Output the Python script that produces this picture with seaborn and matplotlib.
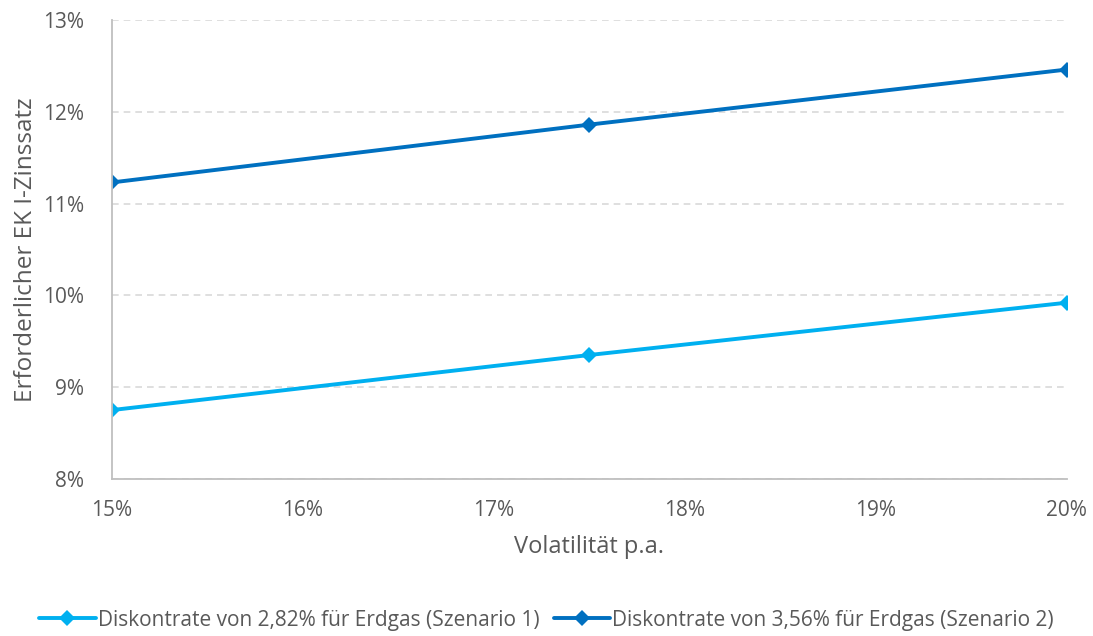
import pandas as pd
import numpy as np
import matplotlib.pyplot as plt
import seaborn as sns
from matplotlib.ticker import FuncFormatter, MultipleLocator

# Data
volatility = [15.0, 17.5, 20.0]
szenario_1 = [8.75, 9.35, 9.92]
szenario_2 = [11.23, 11.86, 12.46]
series_names = [
    "Diskontrate von 2,82% für Erdgas (Szenario 1)",
    "Diskontrate von 3,56% für Erdgas (Szenario 2)",
]
colors = ["#00B0F0", "#0070C0"]

sns.set_style("white")
plt.rcParams['font.family'] = ['Open Sans', 'DejaVu Sans']

df = pd.DataFrame({
    'Volatilität': volatility * 2,
    'Zinssatz': szenario_1 + szenario_2,
    'Serie': [series_names[0]] * 3 + [series_names[1]] * 3,
})

text_color = "#595959"
fig = plt.figure(figsize=(10.93, 6.36), dpi=100)
ax = fig.add_axes([0.1025, 0.247, 0.8735, 0.7216])

sns.lineplot(data=df, x='Volatilität', y='Zinssatz', hue='Serie',
             palette=colors, marker='D', markersize=8, markeredgewidth=0,
             linewidth=2.8, ax=ax, legend=True)

ax.set_xlim(15, 20)
ax.set_ylim(8, 13)
ax.xaxis.set_major_locator(MultipleLocator(1))
ax.yaxis.set_major_locator(MultipleLocator(1))
pct = FuncFormatter(lambda v, p: f"{v:.0f}%")
ax.xaxis.set_major_formatter(pct)
ax.yaxis.set_major_formatter(pct)

ax.grid(axis='y', color='#D9D9D9', linestyle=(0, (4, 3)), linewidth=1.2)
ax.grid(axis='x', visible=False)
for side in ['top', 'right']:
    ax.spines[side].set_visible(False)
for side in ['left', 'bottom']:
    ax.spines[side].set_color('#BFBFBF')
    ax.spines[side].set_linewidth(1.3)

ax.tick_params(axis='both', length=0, labelsize=15, colors=text_color)
ax.tick_params(axis='y', pad=20)
ax.tick_params(axis='x', pad=15)

ax.set_xlabel('Volatilität p.a.', fontsize=17, color=text_color, labelpad=10)
ax.set_ylabel('Erforderlicher EK I-Zinssatz', fontsize=17.5, color=text_color, labelpad=4)

handles, labels = ax.get_legend_handles_labels()
ax.get_legend().remove()
leg = fig.legend(handles, labels, loc='center', bbox_to_anchor=(0.5, 0.025),
                 ncol=2, frameon=False, fontsize=15, handlelength=2.7,
                 handletextpad=0.1, columnspacing=0.7, numpoints=1)
for t in leg.get_texts():
    t.set_color(text_color)

fig.savefig('out.png', dpi=100)
